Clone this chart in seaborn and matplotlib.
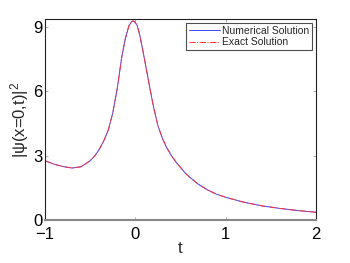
import matplotlib
matplotlib.use('Agg')
import matplotlib.pyplot as plt
import numpy as np
import seaborn as sns
import pandas as pd

# values
t = [-1.0, -0.9, -0.8, -0.7, -0.6, -0.5, -0.45, -0.4, -0.35, -0.3, -0.25,
     -0.2, -0.15, -0.11, -0.07, -0.04, -0.025, -0.01, 0.02, 0.05, 0.09,
     0.13, 0.17, 0.2, 0.25, 0.3, 0.35, 0.4, 0.45, 0.5, 0.55, 0.6, 0.7, 0.8,
     0.9, 1.0, 1.2, 1.4, 1.6, 1.8, 2.0]
numerical = [2.76, 2.60, 2.49, 2.42, 2.48, 2.76, 2.98, 3.28, 3.68, 4.18,
             4.98, 6.12, 7.60, 8.46, 9.05, 9.24, 9.27, 9.24, 9.07, 8.60,
             7.75, 6.85, 5.95, 5.30, 4.40, 3.80, 3.35, 3.00, 2.70, 2.45,
             2.20, 2.00, 1.66, 1.40, 1.20, 1.06, 0.83, 0.66, 0.54, 0.44,
             0.36]
exact = list(numerical)

df = pd.DataFrame({'t': t, 'Numerical Solution': numerical,
                   'Exact Solution': exact})

sns.set_style('ticks')
plt.rcParams['font.family'] = ['Liberation Sans', 'DejaVu Sans']
plt.rcParams['mathtext.fontset'] = 'custom'
plt.rcParams['mathtext.rm'] = 'Liberation Sans'
plt.rcParams['mathtext.it'] = 'Liberation Sans'

fig = plt.figure(figsize=(3.5, 2.63), dpi=100)
ax = fig.add_axes([0.1286, 0.1635, 0.774, 0.7643])

sns.lineplot(x='t', y='Numerical Solution', data=df, ax=ax,
             color='#4444ff', lw=0.7, label='Numerical Solution')
sns.lineplot(x='t', y='Exact Solution', data=df, ax=ax,
             color='#ff3333', lw=0.7, linestyle='-.', label='Exact Solution')

ax.set_xlim(-1, 2)
ax.set_ylim(0, 9.36)
ax.set_xticks([-1, 0, 1, 2])
ax.set_yticks([0, 3, 6, 9])
ax.set_xticklabels(['\u22121', '0', '1', '2'])
ax.tick_params(direction='in', length=2, width=0.5, labelsize=12,
               top=True, right=True, colors='#888888',
               labelcolor='black')
ax.tick_params(axis='x', pad=5)
ax.tick_params(axis='y', pad=2)
for s in ax.spines.values():
    s.set_linewidth(0.8)
    s.set_color('#222222')
ax.spines['bottom'].set_color('#888888')
ax.spines['bottom'].set_linewidth(1.5)

ax.set_xlabel('t', fontsize=12, labelpad=-1)
ax.set_ylabel('|\u03c8(x=0,t)|$^2$', fontsize=12, labelpad=1)

leg = ax.legend(loc='upper right', fontsize=7.5, frameon=True, fancybox=False,
                borderpad=0.3, labelspacing=0.15, handlelength=3.0,
                handletextpad=0.2, borderaxespad=0.35)
leg.get_frame().set_edgecolor('#222222')
leg.get_frame().set_linewidth(0.8)

fig.savefig('out.png', dpi=100)
